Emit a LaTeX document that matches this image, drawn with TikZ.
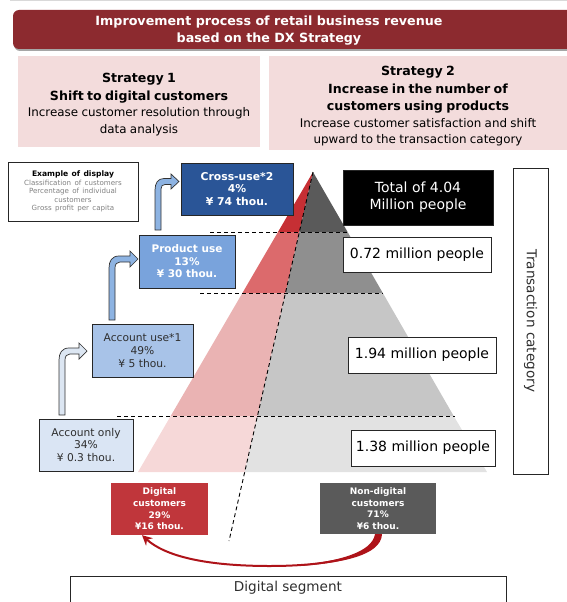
\documentclass[tikz,border=0pt]{standalone}
\usepackage{fontspec}
\setmainfont{DejaVu Sans}
\usetikzlibrary{arrows.meta}

\newcommand{\pxfont}[2]{\fontsize{#1}{#2}\selectfont}

\definecolor{titlered}{HTML}{8C2A2F}
\definecolor{strategypink}{HTML}{F3DCDC}
\definecolor{crossblue}{HTML}{2A5597}
\definecolor{productblue}{HTML}{79A3DC}
\definecolor{accuseblue}{HTML}{A8C3E8}
\definecolor{acconlyblue}{HTML}{DAE5F4}
\definecolor{arrowlight}{HTML}{DCE6F2}
\definecolor{arrowmid}{HTML}{8DB3E2}
\definecolor{redtop}{HTML}{C62F34}
\definecolor{redmid}{HTML}{DC6A6C}
\definecolor{redlow}{HTML}{EAB3B3}
\definecolor{redbase}{HTML}{F6D8D8}
\definecolor{graytop}{HTML}{5A5A5A}
\definecolor{graymid}{HTML}{8F8F8F}
\definecolor{graylow}{HTML}{C6C6C6}
\definecolor{graybase}{HTML}{E2E2E2}
\definecolor{digitalred}{HTML}{C0363B}
\definecolor{nondiggray}{HTML}{5A5A5A}
\definecolor{shiftred}{HTML}{AE1319}
\definecolor{textgray}{HTML}{2E2E2E}
\definecolor{legendgray}{HTML}{808080}

\begin{document}
\begin{tikzpicture}[x=1pt, y=-1pt,
  stratbox/.style={fill=strategypink, inner sep=0pt, text=black},
  custbox/.style={draw=black!85, line width=0.8pt, align=center, inner sep=0pt, font=\pxfont{10.7}{12.8}},
  countbox/.style={draw=black!85, line width=0.8pt, fill=white, align=center, inner sep=0pt, font=\pxfont{14}{17}},
  segbox/.style={text=white, align=center, inner sep=0pt, font=\bfseries\pxfont{9}{11.7}},
  bentarrow/.style={draw=black!80, line width=0.7pt},
  cutline/.style={dash pattern=on 4pt off 3pt, line width=0.9pt},
  shiftarrow/.style={-{Stealth[length=10pt,width=10pt]}, line width=2pt, draw=shiftred}]
\useasboundingbox (0,0) rectangle (567,602);
\clip (0,0) rectangle (567,602);

\draw[black!15, line width=1pt] (10,0.5) -- (567,0.5);

% Title bar.
\fill[black!35, rounded corners=6pt] (14,12) rectangle (600,51);
\fill[titlered, rounded corners=6pt] (13,10) rectangle (600,49);
\node[text=white, align=center, font=\bfseries\pxfont{12.7}{17.5}] (title) at (269,30.5)
  {Improvement process of retail business revenue\\based on the DX Strategy};

% Strategies.
\fill[strategypink] (18,56) rectangle (260,147);
\fill[strategypink] (269,56) rectangle (600,150);
\node[stratbox, fill=none, text width=242pt] (strat1) at (139,104.5)
  {\centering\pxfont{12.6}{17.5}\bfseries Strategy 1\\Shift to digital customers\\
   \pxfont{11.9}{16.5}\mdseries Increase customer resolution through\\data analysis\par};
\node[stratbox, fill=none, text width=298pt] (strat2) at (418,106.5)
  {\centering\pxfont{12.6}{17.5}\bfseries Strategy 2\\Increase in the number of\\customers using products\\
   \pxfont{11.9}{16.5}\mdseries Increase customer satisfaction and shift\\upward to the transaction category\par};

% Pyramid, red side.
\fill[redtop] (313,172) -- (299.3,232) -- (278.0,232) -- cycle;
\fill[redmid] (278.0,232) -- (299.3,232) -- (285.5,293) -- (242.4,293) -- cycle;
\fill[redlow] (242.4,293) -- (285.5,293) -- (257.5,416) -- (170.7,416) -- cycle;
\fill[redbase] (170.7,416) -- (257.5,416) -- (244.7,472) -- (138,472) -- cycle;

% Pyramid, gray side.
\fill[graytop] (313,172) -- (347.6,232) -- (299.3,232) -- cycle;
\fill[graymid] (299.3,232) -- (347.6,232) -- (382.8,293) -- (285.5,293) -- cycle;
\fill[graylow] (285.5,293) -- (382.8,293) -- (453.7,416) -- (257.5,416) -- cycle;
\fill[graybase] (257.5,416) -- (453.7,416) -- (487,472) -- (244.7,472) -- cycle;

% Draw cut lines.
\draw[cutline] (210,232) -- (348,232);
\draw[cutline] (200,293) -- (383,293);
\draw[cutline] (117,416) -- (455,416);
\draw[cutline] (313,172) -- (229,541);

% Example of display.
\node[draw=black!85, line width=0.8pt, text width=130pt, minimum height=59pt, inner sep=0pt] (legend) at (73,191.5)
  {\centering{\bfseries\pxfont{7.6}{9}Example of display\par}
   \color{legendgray}\pxfont{7.1}{8.6}Classification of customers\\Percentage of individual\\customers\\Gross profit per capita\par};

% Customer classes.
\node[custbox, fill=crossblue, text=white, font=\bfseries\pxfont{10.8}{12.5}, minimum width=112pt, minimum height=52pt] (cross) at (237,189)
  {Cross-use*2\\4\%\\¥ 74 thou.};
\node[custbox, fill=productblue, text=white, font=\bfseries\pxfont{10.5}{12.5}, minimum width=96pt, minimum height=53pt] (product) at (187,261.5)
  {Product use\\13\%\\¥ 30 thou.};
\node[custbox, fill=accuseblue, text=textgray, minimum width=101pt, minimum height=53pt] (accuse) at (142.5,350.5)
  {Account use*1\\49\%\\¥ 5 thou.};
\node[custbox, fill=acconlyblue, text=textgray, minimum width=94pt, minimum height=52pt] (acconly) at (86,445)
  {Account only\\34\%\\¥ 0.3 thou.};

% Draw step-up arrows.
\filldraw[bentarrow, fill=arrowlight] (59,415) -- (59,360) .. controls (59,353) and (62,348) .. (69,348) -- (79,348) -- (79,343)
  -- (87,351) -- (79,359) -- (79,354) -- (70,354) .. controls (67,354) and (65,356) .. (65,360) -- (65,415) -- cycle;
\filldraw[bentarrow, fill=arrowmid] (109,320) -- (109,268) .. controls (109,261) and (112,256) .. (119,256) -- (130,256) -- (130,251)
  -- (138,259) -- (130,267) -- (130,262) -- (120,262) .. controls (117,262) and (115,264) .. (115,268) -- (115,320) -- cycle;
\filldraw[bentarrow, fill=arrowmid] (155,230) -- (155,190) .. controls (155,183) and (158,178.5) .. (164,178.5) -- (171,178.5) -- (171,174)
  -- (179,181.5) -- (171,189) -- (171,184.5) -- (165,184.5) .. controls (162.5,184.5) and (161,186) .. (161,189) -- (161,230) -- cycle;

% Customer counts.
\node[countbox, fill=black, text=white, minimum width=150pt, minimum height=55pt] (total) at (418,197.5)
  {Total of 4.04\\Million people};
\node[countbox, minimum width=148pt, minimum height=35pt] (count1) at (417,254.5) {0.72 million people};
\node[countbox, minimum width=148pt, minimum height=36pt] (count2) at (422,355) {1.94 million people};
\node[countbox, minimum width=144pt, minimum height=36pt] (count3) at (423,448) {1.38 million people};

\node[draw=black!85, line width=0.8pt, rotate=-90, minimum width=306pt, minimum height=35pt, inner sep=0pt,
  text=textgray, font=\pxfont{13.6}{16}] (trans) at (530.5,321) {Transaction category};

% Digital and non-digital customers.
\node[segbox, fill=digitalred, minimum width=97pt, minimum height=52pt] (dig) at (159.5,509)
  {Digital\\customers\\29\%\\¥16 thou.};
\node[segbox, fill=nondiggray, minimum width=116pt, minimum height=51pt] (nondig) at (378,508.5)
  {Non-digital\\customers\\71\%\\¥6 thou.};

% Draw shift to digital.
\fill[shiftred] ([xshift=4pt]nondig.south) .. controls (381,556) and (340,563) .. (300,566)
  -- (300,565) .. controls (340,561) and (372,552) .. ([xshift=-3pt]nondig.south) -- cycle;
\draw[shiftarrow] (nondig.south) .. controls (376,556) and (330,566) .. (270,566)
  .. controls (205,566) and (165,556) .. ([xshift=-17.5pt]dig.south);

\node[draw=black!85, line width=0.8pt, anchor=north, minimum width=436pt, inner ysep=5pt, text height=10pt, text depth=30pt,
  text=textgray, font=\pxfont{13.6}{16}] (segment) at (288,576) {Digital segment};

\end{tikzpicture}
\end{document}
